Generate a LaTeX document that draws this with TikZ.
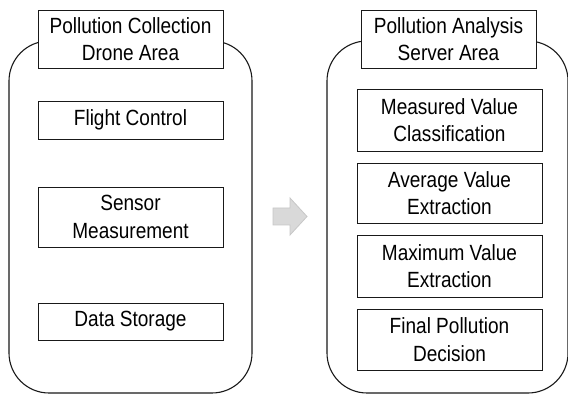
\documentclass[tikz,border=0pt]{standalone}
\usepackage{fontspec}
\setmainfont{Liberation Sans}[FakeStretch=0.865]
\begin{document}
\begin{tikzpicture}[x=1pt,y=-1pt,
  area/.style={draw=black!90,line width=1.1pt,rounded corners=40pt,inner sep=0pt},
  titlebox/.style={draw=black!90,fill=white,line width=0.9pt,inner sep=0pt,
    minimum height=58pt,align=center,font=\fontsize{22}{27.5}\selectfont},
  stepbox/.style={draw=black!90,fill=white,line width=0.9pt,inner sep=0pt,
    minimum width=185pt,align=center,font=\fontsize{22}{27.5}\selectfont},
  flowarrow/.style={draw=black!22,fill=black!15,line width=0.8pt}]
\useasboundingbox (0,0) rectangle (568,395);

% the two areas
\node[area,minimum width=243pt,minimum height=352pt] (drone) at (130.5,217) {};
\node[area,minimum width=241pt,minimum height=352pt] (server) at (447.5,217) {};

% drone side
\node[titlebox,minimum width=185pt] (dronetitle) at (130.5,39) {Pollution Collection\\Drone Area};
\node[stepbox,minimum height=38pt] (flight) at (130.5,120) {Flight Control};
\node[stepbox,minimum height=60pt] (sensor) at (130.5,217) {Sensor\\Measurement};
\node[stepbox,minimum height=37pt] (storage) at (130.5,321.5) {Data Storage};

% server side
\node[titlebox,minimum width=175pt] (servertitle) at (448.5,39) {Pollution Analysis\\Server Area};
\node[stepbox,minimum height=62pt] (classify) at (449.5,120) {Measured Value\\Classification};
\node[stepbox,minimum height=60pt] (average) at (449.5,193) {Average Value\\Extraction};
\node[stepbox,minimum height=62pt] (maximum) at (449.5,266) {Maximum Value\\Extraction};
\node[stepbox,minimum height=61pt] (decision) at (449.5,339.5) {Final Pollution\\Decision};

% hand-over arrow between the areas
\draw[flowarrow] (273,208) -- (290,208) -- (290,198) -- (307,216.5)
  -- (290,235) -- (290,225) -- (273,225) -- cycle;
\end{tikzpicture}
\end{document}
